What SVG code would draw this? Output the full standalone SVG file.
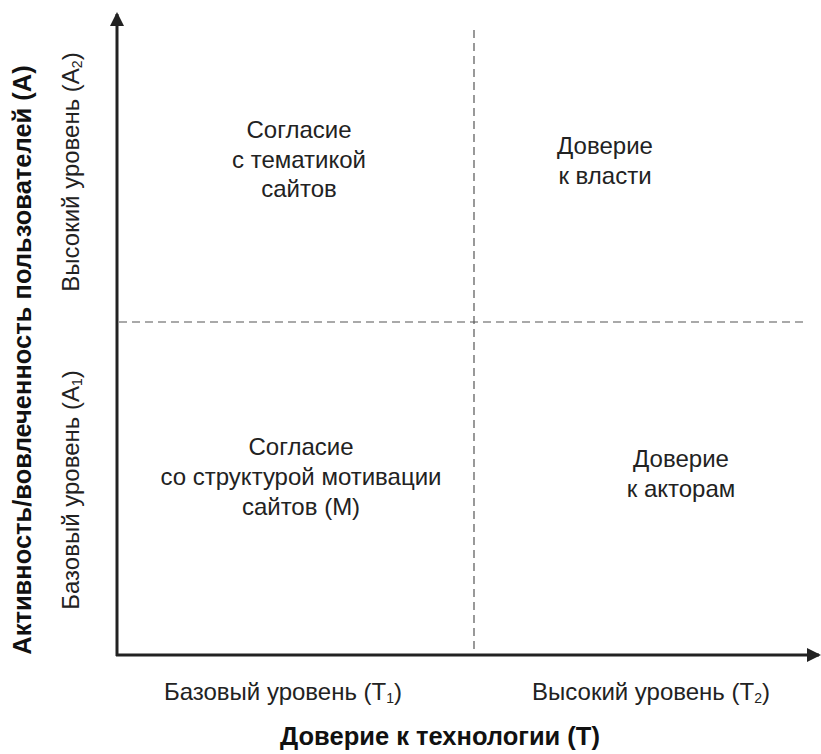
<svg xmlns="http://www.w3.org/2000/svg" width="821" height="754" viewBox="0 0 821 754">
<defs>
<style>
.t{font-family:"Liberation Sans",Arial,sans-serif;font-size:24px;fill:#222;text-anchor:middle}
.b{font-weight:bold;fill:#111;font-size:25.5px}
.axis{stroke:#222;stroke-width:3;fill:none}
.dash{stroke:#555;stroke-width:1.2;stroke-dasharray:8 5;fill:none}
.sub{font-size:14px}
</style>
<marker id="ah" markerWidth="14" markerHeight="14" refX="12" refY="7" orient="auto" markerUnits="userSpaceOnUse">
<path d="M0,0 L14,7 L0,14 Z" fill="#222"/>
</marker>
</defs>
<g id="connectors">
<line class="dash" x1="474" y1="30" x2="474" y2="655"/>
<line class="dash" x1="119" y1="322" x2="808" y2="322"/>
<line class="axis" x1="117" y1="656" x2="117" y2="14" marker-end="url(#ah)"/>
<line class="axis" x1="116" y1="655" x2="819" y2="655" marker-end="url(#ah)"/>
</g>
<g id="q-tl">
<text class="t" x="299" y="138">Согласие</text>
<text class="t" x="299" y="167.5">с тематикой</text>
<text class="t" x="299" y="197">сайтов</text>
</g>
<g id="q-tr">
<text class="t" x="605" y="154">Доверие</text>
<text class="t" x="605" y="184">к власти</text>
</g>
<g id="q-bl">
<text class="t" x="301" y="455">Согласие</text>
<text class="t" x="301" y="485">со структурой мотивации</text>
<text class="t" x="301" y="515">сайтов (М)</text>
</g>
<g id="q-br">
<text class="t" x="681" y="467">Доверие</text>
<text class="t" x="681" y="497">к акторам</text>
</g>
<g id="x-labels">
<text class="t" x="283" y="700">Базовый уровень (T<tspan class="sub" dy="3">1</tspan><tspan dy="-3">)</tspan></text>
<text class="t" x="651" y="700">Высокий уровень (T<tspan class="sub" dy="3">2</tspan><tspan dy="-3">)</tspan></text>
<text class="t b" x="440" y="745">Доверие к технологии (Т)</text>
</g>
<g id="y-labels">
<text class="t" transform="translate(79,172) rotate(-90)">Высокий уровень (A<tspan class="sub" dy="3">2</tspan><tspan dy="-3">)</tspan></text>
<text class="t" transform="translate(79,490) rotate(-90)">Базовый уровень (A<tspan class="sub" dy="3">1</tspan><tspan dy="-3">)</tspan></text>
<text class="t b" transform="translate(31,360) rotate(-90)">Активность/вовлеченность пользователей (А)</text>
</g>
</svg>
